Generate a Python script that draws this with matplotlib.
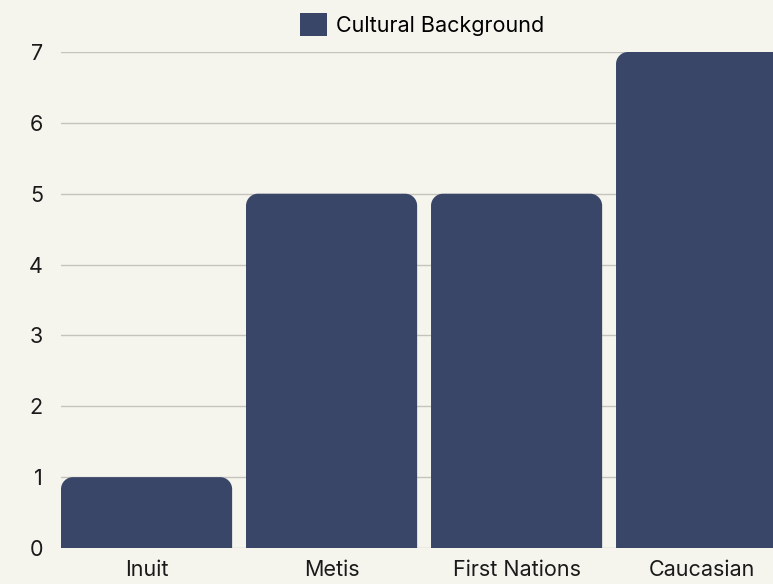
import numpy as np
import matplotlib.pyplot as plt
from matplotlib.path import Path
from matplotlib.patches import PathPatch, Patch

categories = ['Inuit', 'Metis', 'First Nations', 'Caucasian']
values = [1, 5, 5, 7]
series_name = 'Cultural Background'

bg = '#f5f5ee'
bar_color = '#3a4668'
grid_color = '#c4c4bc'

plt.rcParams['font.family'] = ['Inter', 'DejaVu Sans']

fig = plt.figure(figsize=(7.73, 5.84), dpi=100, facecolor=bg)
ax = fig.add_axes([61 / 773, 36 / 584, 712 / 773, 496 / 584])
ax.set_facecolor(bg)

width = 0.925
ax.set_xlim(-width / 2, 3.386)
ax.set_ylim(0, 7)

# pixels per data unit, used to keep the corner radius round
px_x = 712 / (3.386 + width / 2)
px_y = 496 / 7
r_px = 12
rx, ry = r_px / px_x, r_px / px_y
k = 0.5523


def rounded_bar(x0, w, h):
    x1 = x0 + w
    verts = [(x0, 0), (x0, h - ry),
             (x0, h - ry + k * ry), (x0 + rx - k * rx, h), (x0 + rx, h),
             (x1 - rx, h),
             (x1 - rx + k * rx, h), (x1, h - ry + k * ry), (x1, h - ry),
             (x1, 0), (x0, 0)]
    codes = [Path.MOVETO, Path.LINETO,
             Path.CURVE4, Path.CURVE4, Path.CURVE4,
             Path.LINETO,
             Path.CURVE4, Path.CURVE4, Path.CURVE4,
             Path.LINETO, Path.CLOSEPOLY]
    return Path(verts, codes)


xs = np.arange(len(categories))
for x, v in zip(xs, values):
    patch = PathPatch(rounded_bar(x - width / 2, width, v), facecolor=bar_color,
                      edgecolor='none', zorder=3)
    ax.add_patch(patch)

fs = 15.5
ax.set_xticks(xs)
ax.set_xticklabels(categories, fontsize=fs, color='#1a1a1a')
ax.set_yticks(range(0, 8))
ax.tick_params(axis='y', labelsize=fs, labelcolor='#1a1a1a', length=0, pad=13)
ax.tick_params(axis='x', length=0, pad=9)
ax.grid(axis='y', color=grid_color, linewidth=1)
ax.set_axisbelow(True)
for s in ax.spines.values():
    s.set_visible(False)

handle = Patch(facecolor=bar_color, edgecolor='none')
fig.legend([handle], [series_name], loc='upper center', bbox_to_anchor=(422 / 773, 1.0),
           frameon=False, fontsize=fs, handlelength=1.25, handleheight=1.25,
           handletextpad=0.4, borderaxespad=0.2)

fig.savefig('out.png', dpi=100, facecolor=bg)
